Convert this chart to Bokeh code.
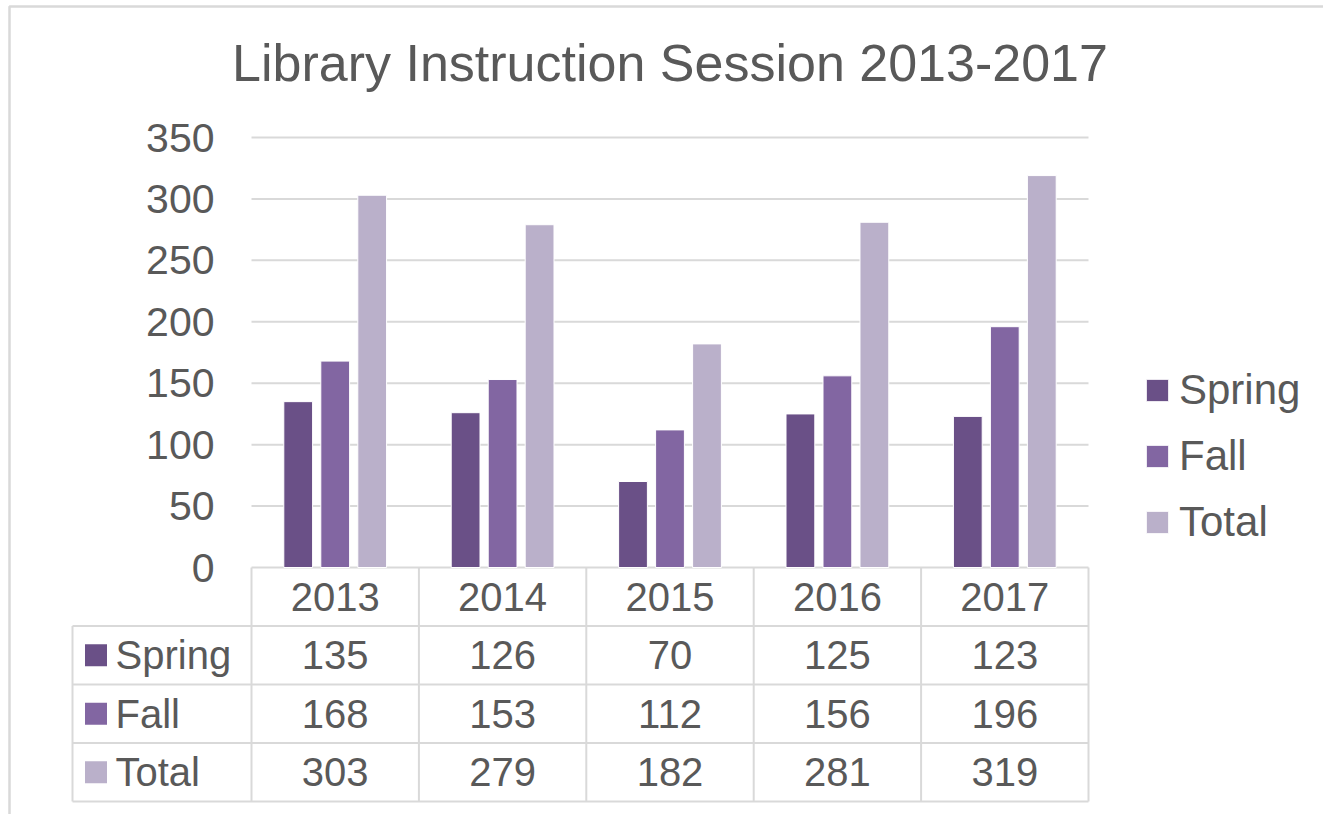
from bokeh.plotting import figure
from bokeh.models import Range1d, ColumnDataSource, Legend, LegendItem
from bokeh.core.properties import value
from bokeh.embed import file_html
from bokeh.resources import INLINE

# ---------------- data ----------------
title_text = "Library Instruction Session 2013-2017"
years = ["2013", "2014", "2015", "2016", "2017"]
series_names = ["Spring", "Fall", "Total"]
spring = [135, 126, 70, 125, 123]
fall = [168, 153, 112, 156, 196]
total = [303, 279, 182, 281, 319]
y_ticks = [0, 50, 100, 150, 200, 250, 300, 350]
colors = ["#6A5087", "#8266A2", "#BAB0CA"]

# ---------------- style / layout ----------------
FONT = "Liberation Sans"
TEXT = "#595959"
GRID = "#D9D9D9"

W, H = 1323, 814
CAT_PX = 167.4            # pixels per category
VAL_PX = 430 / 350        # pixels per value unit
X0_PX = 251               # plot-area left edge from figure left
Y0_PX = 567               # value 0 from figure top
x_start = -0.5 - X0_PX / CAT_PX
x_end = x_start + W / CAT_PX
y_end = Y0_PX / VAL_PX
y_start = y_end - H / VAL_PX

def ux(px):   # figure pixel x -> data x
    return x_start + px / CAT_PX

def vy(py):   # figure pixel y (from top) -> data y
    return y_end - py / VAL_PX

ROW = 58.5 / VAL_PX
ncat = len(years)
nrows = len(series_names)
LEFT = ux(72)
table_bottom = -ROW * (nrows + 1)

p = figure(width=W, height=H, x_range=Range1d(x_start, x_end), y_range=Range1d(y_start, y_end),
           x_axis_type=None, y_axis_type=None, toolbar_location=None,
           output_backend="svg", min_border=0)
p.grid.visible = False
p.outline_line_color = None
p.background_fill_color = "white"
p.border_fill_color = "white"

# chart-area border
p.quad(left=[ux(9)], right=[x_end + 1], top=[vy(6)], bottom=[y_start - 50],
       fill_alpha=0, line_color=GRID, line_width=2.5)

# gridlines
p.segment(x0=[-0.5] * len(y_ticks), x1=[ncat - 0.5] * len(y_ticks), y0=y_ticks, y1=y_ticks,
          line_color=GRID, line_width=2)

# bars
offsets = [-0.221, 0.0, 0.221]
renderers = []
for name, vals, col, off in zip(series_names, [spring, fall, total], colors, offsets):
    src = ColumnDataSource(dict(x=[i + off for i in range(ncat)], top=vals))
    r = p.vbar(x="x", top="top", bottom=0, width=0.172, source=src,
               fill_color=col, line_color="white", line_width=1)
    renderers.append(r)

# y tick labels
p.text(x=[ux(214)] * len(y_ticks), y=y_ticks, text=[str(t) for t in y_ticks],
       text_font=value(FONT), text_font_size="41px", text_color=TEXT,
       text_align="right", text_baseline="middle")

# title
p.text(x=[(ncat - 1) / 2], y=[vy(62)], text=[title_text],
       text_font=value(FONT), text_font_size="52px", text_color=TEXT,
       text_align="center", text_baseline="middle")

# data table grid
vxs = [i - 0.5 for i in range(ncat + 1)]
p.segment(x0=vxs, x1=vxs, y0=[0] * len(vxs), y1=[table_bottom] * len(vxs),
          line_color=GRID, line_width=2)
hys = [-ROW * (r + 1) for r in range(nrows + 1)]
p.segment(x0=[LEFT] * len(hys), x1=[ncat - 0.5] * len(hys), y0=hys, y1=hys,
          line_color=GRID, line_width=2)
p.segment(x0=[LEFT], x1=[LEFT], y0=[-ROW], y1=[table_bottom], line_color=GRID, line_width=2)

# header years
p.text(x=list(range(ncat)), y=[-ROW / 2] * ncat, text=years,
       text_font=value(FONT), text_font_size="40px", text_color=TEXT,
       text_align="center", text_baseline="middle")

# rows
for r, (name, vals, col) in enumerate(zip(series_names, [spring, fall, total], colors)):
    yc = -ROW * (r + 1.5)
    p.scatter(x=[ux(95.5)], y=[yc], marker="square", size=22, fill_color=col, line_color=None)
    p.text(x=[ux(115)], y=[yc], text=[name], text_font=value(FONT), text_font_size="40px",
           text_color=TEXT, text_align="left", text_baseline="middle")
    p.text(x=list(range(ncat)), y=[yc] * ncat, text=[str(v) for v in vals],
           text_font=value(FONT), text_font_size="40px", text_color=TEXT,
           text_align="center", text_baseline="middle")

# legend
legend = Legend(items=[LegendItem(label=n, renderers=[r]) for n, r in zip(series_names, renderers)],
                location=(1143, 268), label_text_font=FONT, label_text_font_size="42px",
                label_text_color=TEXT, glyph_width=28, glyph_height=28, label_standoff=8,
                spacing=18, padding=0, margin=0, border_line_alpha=0, background_fill_alpha=0)
p.add_layout(legend)

open("out.html", "w").write(file_html(p, INLINE))
